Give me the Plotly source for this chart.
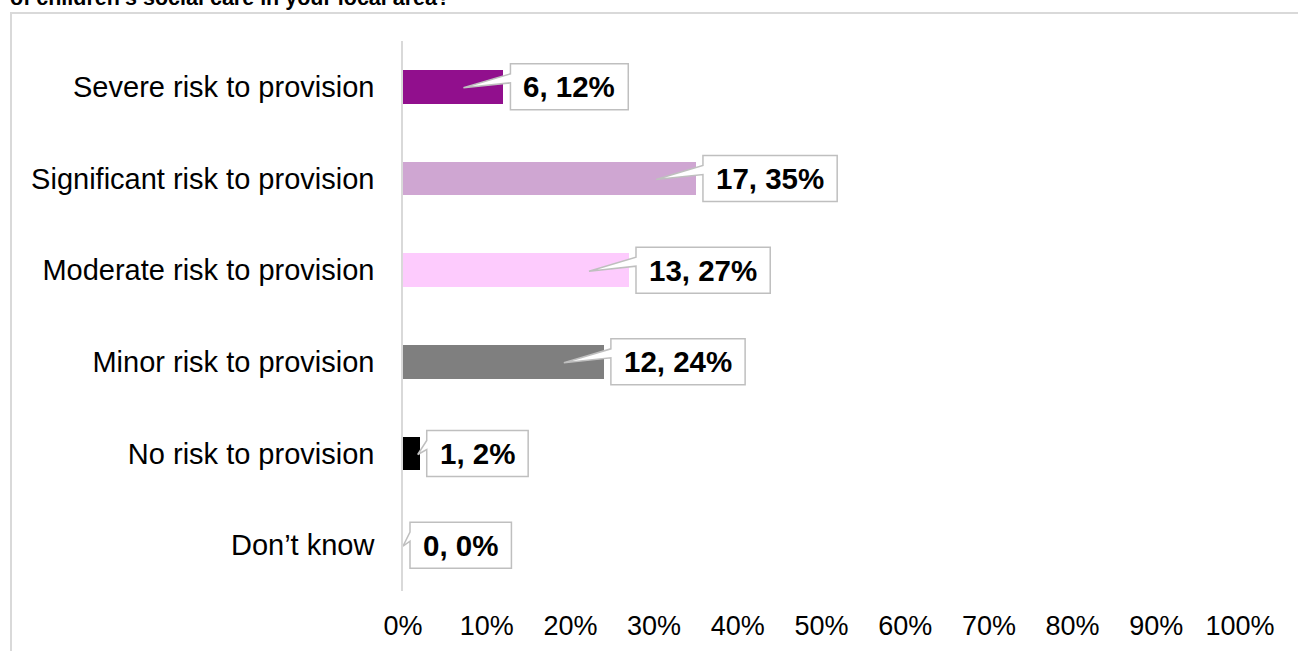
import plotly.graph_objects as go

# Survey responses, listed top to bottom
categories = [
    "Severe risk to provision",
    "Significant risk to provision",
    "Moderate risk to provision",
    "Minor risk to provision",
    "No risk to provision",
    "Don’t know",
]
counts = [6, 17, 13, 12, 1, 0]
percents = [12, 35, 27, 24, 2, 0]
bar_colors = ["#910f8d", "#cfa6d2", "#fdcbfd", "#7f7f7f", "#000000", "#d9d9d9"]
x_ticks = [0, 10, 20, 30, 40, 50, 60, 70, 80, 90, 100]
title_text = "of children’s social care in your local area?"

W, H = 1298, 651
M_L, M_R, M_T, M_B = 403, 58, 41, 60
plot_w = W - M_L - M_R
plot_h = H - M_T - M_B
px_per_pct = plot_w / 100.0

FONT = "Arial, Liberation Sans, sans-serif"
LABEL_SIZE = 29.5

# Arial Bold advance widths (per em) for the label glyphs
BOLD_W = {**{d: 0.556 for d in "0123456789"}, ",": 0.278, " ": 0.278, "%": 0.889}


def text_width(s, size):
    return sum(BOLD_W.get(ch, 0.6) for ch in s) * size


rows = list(range(len(categories)))

fig = go.Figure()
fig.add_trace(go.Bar(
    x=percents,
    y=rows,
    orientation="h",
    width=0.37,
    marker=dict(color=bar_colors, line=dict(width=0)),
    hoverinfo="skip",
))

shapes = []
annotations = []
GAP = 7          # space between bar end and callout box
PAD = 13         # horizontal padding inside the box
BOX_HALF = 23    # half height of the callout box

for r, n, p in zip(rows, counts, percents):
    label = f"{n}, {p}%"
    bw = text_width(label, LABEL_SIZE) + 2 * PAD
    bar_px = p * px_per_pct
    tip = -40 if bar_px > 60 else -min(2, bar_px)
    x0, x1 = GAP, GAP + bw
    path = (
        f"M {x0},{BOX_HALF} L {x1},{BOX_HALF} L {x1},{-BOX_HALF} L {x0},{-BOX_HALF} "
        f"L {x0},4 L {tip},-1 L {x0},13 Z"
    )
    shapes.append(dict(
        type="path", path=path,
        xref="x", yref="y",
        xsizemode="pixel", ysizemode="pixel",
        xanchor=p, yanchor=r,
        fillcolor="white",
        line=dict(color="#bfbfbf", width=1.5),
        layer="above",
    ))
    annotations.append(dict(
        x=p, y=r, xref="x", yref="y",
        text=f"<b>{label}</b>",
        showarrow=False,
        xanchor="center", yanchor="middle",
        xshift=GAP + bw / 2,
        font=dict(family=FONT, size=LABEL_SIZE, color="#000000"),
    ))

# Outer chart frame
shapes.append(dict(
    type="rect", xref="paper", yref="paper",
    x0=(11 - M_L) / plot_w, x1=(W + 20 - M_L) / plot_w,
    y0=(H - M_B - (H + 20)) / plot_h, y1=(H - M_B - 13) / plot_h,
    line=dict(color="#d9d9d9", width=2),
    fillcolor="rgba(0,0,0,0)",
    layer="below",
))

# Question text running off the top edge
annotations.append(dict(
    x=(8 - M_L) / plot_w, y=(H - M_B + 2) / plot_h,
    xref="paper", yref="paper",
    text=f"<b>{title_text}</b>",
    showarrow=False,
    xanchor="left", yanchor="middle",
    font=dict(family=FONT, size=21.5, color="#000000"),
))

fig.update_layout(
    width=W, height=H,
    margin=dict(l=M_L, r=M_R, t=M_T, b=M_B, pad=0),
    paper_bgcolor="white",
    plot_bgcolor="white",
    showlegend=False,
    bargap=0,
    shapes=shapes,
    annotations=annotations,
    xaxis=dict(
        range=[0, 100],
        tickvals=x_ticks,
        ticktext=[f"{v}%" for v in x_ticks],
        showgrid=False, zeroline=False, showline=False,
        ticks="",
        ticklabelstandoff=16,
        automargin=False,
        tickfont=dict(family=FONT, size=27, color="#000000"),
        fixedrange=True,
    ),
    yaxis=dict(
        range=[len(categories) - 0.5, -0.5],
        tickvals=rows,
        ticktext=categories,
        showgrid=False, zeroline=False,
        showline=True, linecolor="#d9d9d9", linewidth=1.5,
        ticks="",
        ticklabelstandoff=21,
        automargin=False,
        tickfont=dict(family=FONT, size=29, color="#000000"),
        fixedrange=True,
    ),
)

fig.write_html("out.html")
